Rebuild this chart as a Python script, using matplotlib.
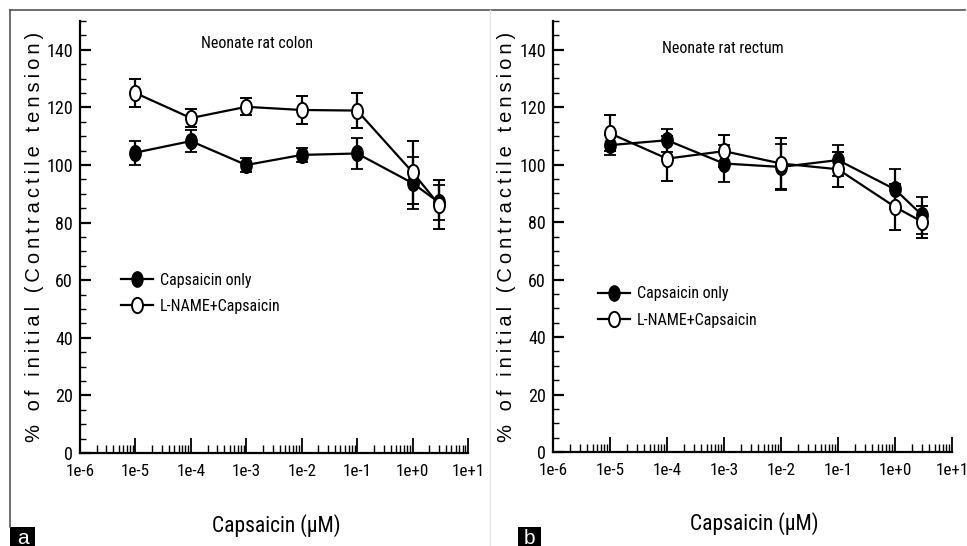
import numpy as np
import matplotlib
matplotlib.use("Agg")
import matplotlib.pyplot as plt
from matplotlib.path import Path
from matplotlib.transforms import Affine2D
from matplotlib.ticker import MultipleLocator, LogLocator, FuncFormatter, NullFormatter
from matplotlib.lines import Line2D
from matplotlib.patches import Rectangle
from matplotlib import font_manager as fm

# ---------------- data ----------------
conc = [1e-5, 1e-4, 1e-3, 1e-2, 1e-1, 1.0, 3.0]

colon_caps = [104.3, 108.3, 100.0, 103.5, 104.0, 93.7, 87.0]
colon_caps_err = [4.2, 3.8, 2.3, 2.5, 5.3, 9.0, 6.0]
colon_lname = [125.0, 116.3, 120.2, 119.1, 118.9, 97.5, 86.2]
colon_lname_err = [5.0, 3.0, 3.0, 4.7, 6.0, 11.0, 8.5]

rectum_caps = [106.8, 108.5, 100.4, 99.2, 101.6, 91.4, 82.4]
rectum_caps_err = [3.5, 4.0, 6.5, 8.1, 5.4, 7.0, 6.4]
rectum_lname = [110.9, 102.1, 104.7, 100.4, 98.4, 85.3, 80.1]
rectum_lname_err = [6.3, 7.8, 5.5, 8.9, 6.0, 8.0, 5.5]

panel_titles = ["Neonate rat colon", "Neonate rat rectum"]
series_labels = ["Capsaicin only", "L-NAME+Capsaicin"]
xlabel = "Capsaicin (\u00b5M)"
ylabel = "% of initial (Contractile tension)"
panel_letters = ["a", "b"]

available = {f.name for f in fm.fontManager.ttflist}
narrow_candidates = ["Liberation Sans Narrow", "Roboto Condensed", "Open Sans Condensed",
                     "Noto Sans Display", "Roboto", "DejaVu Sans"]
NARROW = [f for f in narrow_candidates if f in available] or ["DejaVu Sans"]
NARROW = NARROW[:1] + (["DejaVu Sans"] if NARROW[0] != "DejaVu Sans" else [])
WIDE = ["Liberation Sans", "DejaVu Sans"]
narrow_stretch = "normal"
for f in fm.fontManager.ttflist:
    if f.name == NARROW[0] and f.stretch in ("condensed", "semi-condensed", 375):
        narrow_stretch = "condensed"

W, H = 967, 546
fig = plt.figure(figsize=(W / 100, H / 100), dpi=100)

def fx(px):
    return px / W

def fy(py):
    return 1 - py / H

# ellipse marker (taller than wide)
ell = Path.unit_circle().transformed(Affine2D().scale(0.72, 1.0))

spaced_ylabel = "\u2009".join(list(ylabel))

axes_px = [
    (80, 468, 21, 453),
    (553, 952, 21, 452),
]
title_pos = [(0.456, 0.949), (0.426, 0.937)]
legend_anchor = [(0.105, 0.417), (0.112, 0.384)]

datasets = [
    (colon_caps, colon_caps_err, colon_lname, colon_lname_err),
    (rectum_caps, rectum_caps_err, rectum_lname, rectum_lname_err),
]

for i, (l, r, t, b) in enumerate(axes_px):
    ax = fig.add_axes([fx(l), fy(b), fx(r - l), (b - t) / H])
    caps, caps_err, lname, lname_err = datasets[i]
    ax.errorbar(conc, caps, yerr=caps_err, color="black", lw=1.6,
                marker=ell, markersize=11, markerfacecolor="black",
                markeredgecolor="black", markeredgewidth=1.3,
                capsize=4, capthick=1.6, elinewidth=1.6, zorder=3)
    ax.errorbar(conc, lname, yerr=lname_err, color="black", lw=1.6,
                marker=ell, markersize=11, markerfacecolor="white",
                markeredgecolor="black", markeredgewidth=1.4,
                capsize=4, capthick=1.6, elinewidth=1.6, zorder=4)

    ax.set_xscale("log")
    ax.set_xlim(1e-6, 1e1)
    ax.set_ylim(0, 150)
    ax.set_yticks(np.arange(0, 141, 20))
    ax.yaxis.set_minor_locator(MultipleLocator(5))
    ax.xaxis.set_major_locator(LogLocator(base=10, numticks=20))
    ax.xaxis.set_minor_locator(LogLocator(base=10, subs=np.arange(2, 10), numticks=20))
    ax.xaxis.set_minor_formatter(NullFormatter())
    ax.xaxis.set_major_formatter(FuncFormatter(lambda v, p: f"1e{int(round(np.log10(v))):+d}".replace("+-", "-")))

    for s in ["top", "right"]:
        ax.spines[s].set_visible(False)
    for s in ["left", "bottom"]:
        ax.spines[s].set_linewidth(1.6)

    ax.tick_params(axis="y", which="major", direction="in", length=8, width=1.6, pad=5)
    ax.tick_params(axis="y", which="minor", direction="in", length=4.5, width=1.0)
    ax.tick_params(axis="x", which="major", direction="in", length=11, width=1.3, pad=8)
    ax.tick_params(axis="x", which="minor", direction="in", length=5.5, width=1.0)
    for lab in ax.get_xticklabels():
        lab.set_fontfamily(NARROW)
        lab.set_fontstretch(narrow_stretch)
        lab.set_fontsize(12.3)
    for lab in ax.get_yticklabels():
        lab.set_fontfamily(NARROW)
        lab.set_fontstretch(narrow_stretch)
        lab.set_fontsize(13)

    ax.set_xlabel(xlabel, fontfamily=NARROW, fontstretch=narrow_stretch, fontsize=15.5)
    ax.xaxis.set_label_coords(0.505, -0.167)
    ax.xaxis.label.set_verticalalignment("center")
    ax.set_ylabel(spaced_ylabel, fontfamily=WIDE, fontsize=14.5)
    ax.yaxis.set_label_coords(-0.116, 0.5)
    ax.yaxis.label.set_verticalalignment("center")

    ax.text(title_pos[i][0], title_pos[i][1], panel_titles[i], transform=ax.transAxes,
            ha="center", va="center", fontfamily=NARROW, fontstretch=narrow_stretch,
            fontsize=11.5)

    handles = [
        Line2D([], [], color="black", lw=1.6, marker=ell, markersize=11,
               markerfacecolor="black", markeredgecolor="black"),
        Line2D([], [], color="black", lw=1.6, marker=ell, markersize=11,
               markerfacecolor="white", markeredgecolor="black", markeredgewidth=1.4),
    ]
    ax.legend(handles, series_labels, loc="upper left", bbox_to_anchor=legend_anchor[i],
              frameon=False, borderpad=0, borderaxespad=0, handlelength=2.0,
              handletextpad=0.45, labelspacing=0.7,
              prop=fm.FontProperties(family=NARROW, stretch=narrow_stretch, size=11.5))
    ax.patch.set_alpha(0)

# frame lines
fig.add_artist(Line2D([fx(10), fx(10)], [fy(10), fy(527)], transform=fig.transFigure,
                      color="#555555", lw=1.2))
fig.add_artist(Line2D([fx(10), fx(965)], [fy(10), fy(10)], transform=fig.transFigure,
                      color="#555555", lw=1.2))
fig.add_artist(Line2D([fx(490), fx(490)], [fy(10), fy(546)], transform=fig.transFigure,
                      color="#e4e4e4", lw=1.0))

# panel letters
for (x0, x1), letter in zip([(10, 35), (518, 541)], panel_letters):
    fig.add_artist(Rectangle((fx(x0), 0), fx(x1 - x0), 19 / H, transform=fig.transFigure,
                             facecolor="black", edgecolor="none"))
    fig.text(fx((x0 + x1) / 2), fy(538), letter, color="white", ha="center", va="center",
             fontfamily=WIDE, fontsize=15)

fig.savefig("out.png", dpi=100)
